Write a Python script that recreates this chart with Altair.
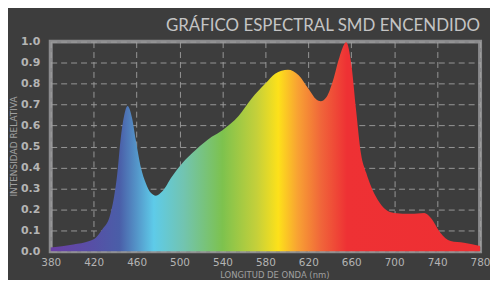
import altair as alt
import pandas as pd

# Spectrum data (wavelength nm, relative intensity)
wavelength = [380, 401, 416, 422, 428, 435, 439, 442, 445, 448.5, 451.6, 455.6, 459.3, 464, 468.6, 473,
              478, 484, 493, 502.5, 515, 530, 540, 555, 567, 580, 589, 601, 611, 620, 627.5, 631.5,
              637, 643, 649, 655.3, 660, 664.5, 669, 674, 678.4, 684.6, 692, 700, 715.5, 728, 734,
              743, 752.5, 765, 780]
intensity = [0.018, 0.033, 0.049, 0.065, 0.104, 0.167, 0.26, 0.37, 0.53, 0.65, 0.693, 0.64, 0.53, 0.40,
             0.325, 0.28, 0.265, 0.286, 0.357, 0.42, 0.483, 0.546, 0.578, 0.645, 0.728, 0.80, 0.847,
             0.866, 0.84, 0.776, 0.724, 0.716, 0.736, 0.815, 0.926, 0.997, 0.894, 0.673, 0.468,
             0.373, 0.31, 0.246, 0.199, 0.183, 0.179, 0.183, 0.16, 0.089, 0.049, 0.041, 0.025]

x_ticks = [380, 420, 460, 500, 540, 580, 620, 660, 700, 740, 780]
y_ticks = [0.0, 0.1, 0.2, 0.3, 0.4, 0.5, 0.6, 0.7, 0.8, 0.9, 1.0]

df = pd.DataFrame({"wl": wavelength, "val": intensity})

gradient = alt.LinearGradient(
    gradient="linear", x1=0, y1=0, x2=1, y2=0,
    stops=[
        alt.GradientStop(offset=0.0, color="#6b3fa5"),
        alt.GradientStop(offset=0.10, color="#5650a6"),
        alt.GradientStop(offset=0.16, color="#4a5ea8"),
        alt.GradientStop(offset=0.24, color="#5ecbe9"),
        alt.GradientStop(offset=0.31, color="#72c4b0"),
        alt.GradientStop(offset=0.40, color="#7dc24e"),
        alt.GradientStop(offset=0.48, color="#c5d03a"),
        alt.GradientStop(offset=0.53, color="#fde11a"),
        alt.GradientStop(offset=0.575, color="#f8a233"),
        alt.GradientStop(offset=0.63, color="#f0653a"),
        alt.GradientStop(offset=0.69, color="#ee3134"),
        alt.GradientStop(offset=1.0, color="#ee2f33"),
    ],
)

area = alt.Chart(df).mark_area(color=gradient, interpolate="monotone").encode(
    x=alt.X("wl:Q", scale=alt.Scale(domain=[380, 780], nice=False, zero=False),
            axis=alt.Axis(values=x_ticks, title="LONGITUD DE ONDA (nm)", grid=True,
                          ticks=False, domain=False, labelPadding=6, labelFontSize=10.5,
                          labelFlush=False, labelOverlap=False,
                          labelFont="DejaVu Sans", labelColor="#b4b4b4",
                          titleFont="DejaVu Sans", titleFontSize=8.5, titleColor="#a0a0a0",
                          titleFontWeight="normal", titleX=225, titleY=28,
                          titleBaseline="bottom", titleAlign="center")),
    y=alt.Y("val:Q", scale=alt.Scale(domain=[0, 1], nice=False),
            axis=alt.Axis(values=y_ticks, format=".1f", title="INTENSIDAD RELATIVA", grid=True,
                          ticks=False, domain=False, labelPadding=11, labelFontSize=11,
                          labelFlush=False, labelOverlap=False,
                          labelFont="DejaVu Sans", labelColor="#b4b4b4", labelFontWeight="bold",
                          titleFont="DejaVu Sans", titleFontSize=9, titleColor="#a0a0a0",
                          titleFontWeight="normal", titleAngle=270, titleX=-37, titleY=105,
                          titleBaseline="middle", titleAlign="center")),
)

chart = area.properties(
    width=432, height=211,
    background="#3d3d3d",
    autosize=alt.AutoSizeParams(type="none"),
    padding={"left": 43, "top": 33, "right": 10, "bottom": 28},
    title=alt.TitleParams("GRÁFICO ESPECTRAL SMD ENCENDIDO", anchor="end", frame="group",
                          fontSize=17, font="Lato", fontWeight="normal", color="#c4c4c4",
                          offset=8, dy=7),
).configure_view(
    stroke="#8a8a8c", strokeWidth=4, fill="#3d3d3d"
).configure_axis(
    gridColor="#a0a0a0", gridDash=[6, 4], gridWidth=1, gridOpacity=0.9
)

chart.save("out.html", embed_options={"renderer": "svg", "actions": False})
